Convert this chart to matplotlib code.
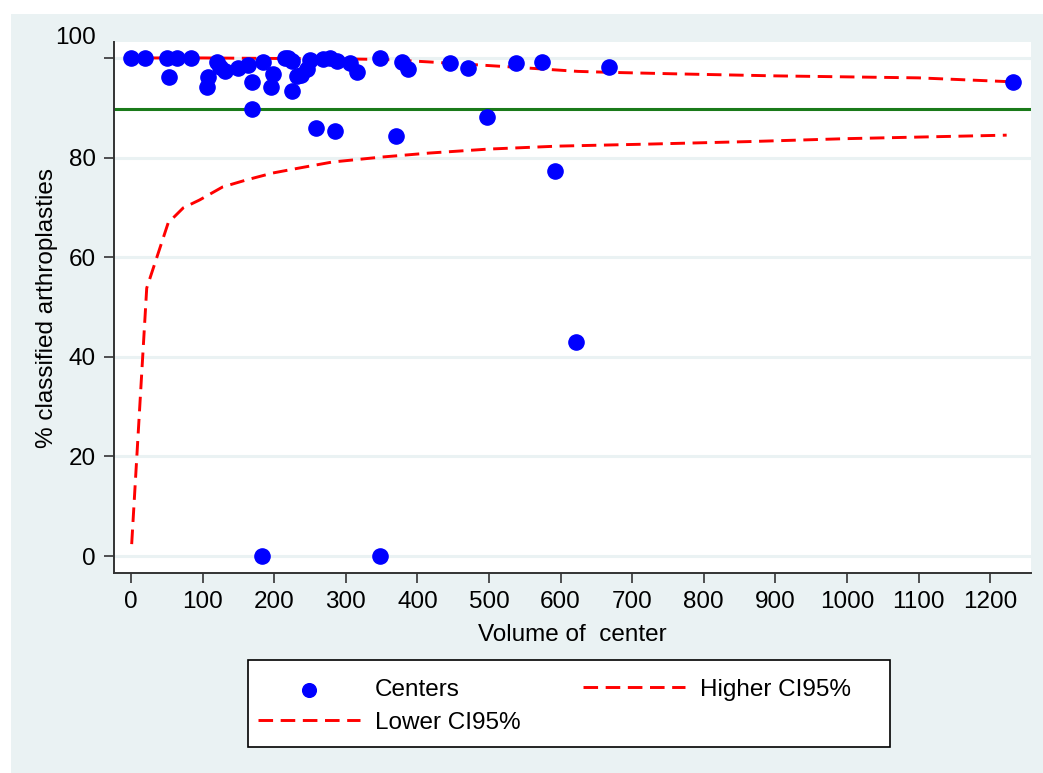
import matplotlib
matplotlib.use('Agg')
import matplotlib.pyplot as plt
import matplotlib.transforms as mtransforms
from matplotlib.patches import Rectangle

plt.rcParams['font.family'] = ['Liberation Sans', 'DejaVu Sans']

# centers: volume and % classified arthroplasties
vol = [0, 20, 51, 64, 84, 53, 106, 107, 120, 125, 131, 149, 163, 169, 169,
       184, 196, 198, 215, 220, 225, 225, 232, 238, 246, 250, 259, 268, 278,
       288, 285, 306, 316, 348, 370, 378, 387, 446, 471, 497, 538, 574, 592,
       621, 668, 1232, 183, 348]
pct = [100, 100, 100, 100, 100, 96.2, 94.2, 96.2, 99.2, 98.2, 97.4, 98.0, 98.6,
       95.2, 89.8, 99.2, 94.2, 96.8, 100, 100, 99.4, 93.4, 96.4, 96.6, 97.8,
       99.6, 86.0, 99.8, 100, 99.4, 85.3, 99.0, 97.2, 100, 84.3, 99.2, 97.8,
       99.0, 98.0, 88.2, 99.0, 99.2, 77.3, 43.0, 98.2, 95.2, 0, 0]

# confidence limits
hi_x = [0, 100, 200, 300, 350, 380, 416, 450, 485, 541, 624, 671, 763, 900, 1100, 1232]
hi_y = [100, 100, 99.9, 99.8, 99.7, 99.5, 99.2, 98.9, 98.6, 98.1, 97.3, 97.1, 96.8, 96.4, 96.0, 95.2]
lo_x = [1, 22, 52, 73, 96, 128, 161, 198, 235, 281, 350, 416, 499, 597, 722, 861, 1000, 1223]
lo_y = [2.4, 53.8, 66.9, 69.9, 71.5, 74.1, 75.5, 76.9, 77.9, 79.1, 80.1, 80.9, 81.7, 82.3,
        82.7, 83.2, 83.8, 84.5]

target = 89.7

bg = '#EAF2F3'
fs = 17.5

fig = plt.figure(figsize=(10.43, 7.73), dpi=100)
fig.patch.set_facecolor('white')
fig.patches.append(Rectangle((11 / 1043, 0), 1, 1 - 14 / 773, transform=fig.transFigure,
                             facecolor=bg, edgecolor='none', zorder=-10))

ax = fig.add_axes([114 / 1043, 1 - 573 / 773, (1031 - 114) / 1043, (573 - 42) / 773])
ax.set_facecolor('white')

dash = (5.0, 2.6)
ax.scatter(vol, pct, s=120, color='#0000FF', zorder=4, label='Centers')
l_lo, = ax.plot(lo_x, lo_y, color='#FF0000', lw=2.1, dashes=dash, zorder=3, label='Lower CI95%')
l_hi, = ax.plot(hi_x, hi_y, color='#FF0000', lw=2.1, dashes=dash, zorder=3, label='Higher CI95%')
ax.axhline(target, color='#1A7A1A', lw=2.2, zorder=2)

ax.set_xlim(-23.7, 1257)
ax.set_ylim(-3.4, 103.2)
ax.set_xticks(range(0, 1201, 100))
ax.set_yticks(range(0, 101, 20))
ax.yaxis.grid(True, color=bg, lw=2.2)
ax.set_axisbelow(True)

for s in ['top', 'right']:
    ax.spines[s].set_visible(False)
for s in ['left', 'bottom']:
    ax.spines[s].set_color('#333333')
    ax.spines[s].set_linewidth(1.4)
ax.tick_params(direction='out', length=7, width=1.2, color='#333333', labelsize=fs)
ax.tick_params(axis='x', pad=6)
ax.tick_params(axis='y', pad=6)

# the top y label sits above its tick, as in the original
lab = ax.yaxis.get_major_ticks()[-1].label1
lab.set_transform(lab.get_transform() + mtransforms.ScaledTranslation(0, 16 / 72, fig.dpi_scale_trans))

ax.set_xlabel('Volume of  center', fontsize=fs, labelpad=8)
ax.set_ylabel('% classified arthroplasties', fontsize=fs, labelpad=-2)

# legend box
fig.patches.append(Rectangle((248 / 1043, 1 - 747 / 773), (890 - 248) / 1043, (747 - 660) / 773,
                             transform=fig.transFigure, facecolor='white', edgecolor='black',
                             lw=1.2, zorder=5))
handles, labels = ax.get_legend_handles_labels()
order = [labels.index('Centers'), labels.index('Lower CI95%'), labels.index('Higher CI95%')]
leg = fig.legend([handles[i] for i in order], [labels[i] for i in order],
                 loc='upper left', bbox_to_anchor=(236 / 1043, 1 - 657 / 773),
                 ncol=2, frameon=False, fontsize=fs, handlelength=4.2, handletextpad=0.6,
                 columnspacing=2.6, labelspacing=0.45, borderpad=0.4, scatterpoints=1,
                 markerscale=0.9)
leg.set_zorder(6)

fig.savefig('out.png', dpi=100)
